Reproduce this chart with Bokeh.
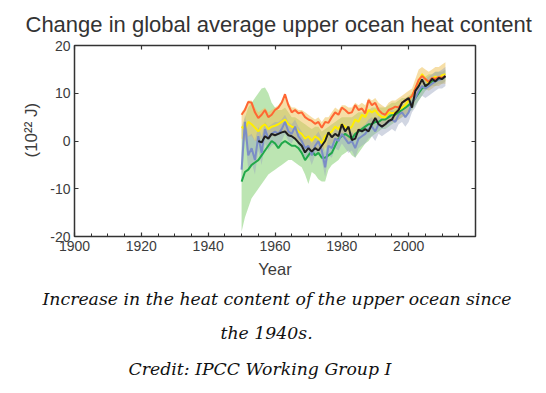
from bokeh.plotting import figure
from bokeh.models import Range1d, LinearAxis, FixedTicker, Title, CustomJSTickFormatter
from bokeh.embed import file_html
from bokeh.resources import INLINE

# ---------------- data ----------------
years = list(range(1950, 2012))
black_years = list(range(1955, 2012))

orange = [5.5, 6.5, 8.2, 8.0, 6.0, 4.8, 5.5, 6.5, 5.0, 5.5,
          6.5, 7.0, 8.0, 9.8, 7.5, 6.0, 6.5, 5.8, 6.0, 5.0,
          4.5, 4.2, 3.6, 4.0, 2.8, 4.0, 3.8, 5.0, 6.0, 5.5,
          7.0, 6.5, 5.8, 6.0, 7.5, 6.5, 6.8, 5.8, 8.6, 7.5,
          8.0, 6.5, 5.8, 5.5, 6.5, 6.8, 7.2, 7.0, 8.0, 8.5,
          8.8, 9.4, 11.0, 12.8, 13.6, 13.0, 12.4, 13.2, 13.0, 13.4,
          13.2, 13.6]
yellow = [3.0, 2.5, 4.0, 3.5, 2.8, 2.0, 3.0, 3.5, 2.5, 3.0,
          3.2, 3.5, 4.0, 4.5, 3.5, 3.0, 2.8, 2.0, 1.5, 0.5,
          1.0, 0.0, 1.0, 0.5, -0.5, 1.0, 1.5, 2.0, 3.0, 2.5,
          3.5, 3.0, 2.5, 3.0, 4.5, 4.0, 5.5, 5.0, 6.5, 6.0,
          6.5, 5.5, 5.0, 5.0, 6.0, 5.8, 6.0, 6.5, 7.0, 7.5,
          8.5, 9.5, 11.0, 12.5, 14.0, 13.0, 12.0, 13.0, 13.5, 13.0,
          13.8, 14.0]
blue = [-6.0, 4.0, -3.0, -1.5, -4.0, 1.0, -2.5, 2.5, 0.5, 1.5,
        2.0, 1.5, 2.5, 4.0, 2.0, 1.5, 3.0, 1.0, 0.0, -1.5,
        -1.0, -3.0, -1.0, 0.0, -2.0, -5.5, -1.0, -1.5, 0.5, 0.0,
        1.5, 0.5, -0.5, 0.0, -1.5, 0.5, 1.0, 1.5, 2.5, 3.0,
        2.0, 3.5, 3.0, 3.5, 4.0, 4.5, 4.0, 5.5, 6.0, 5.0,
        6.0, 8.0, 9.0, 10.5, 11.5, 11.0, 11.5, 12.0, 12.5, 12.8,
        13.0, 13.5]
green = [-8.5, -6.5, -6.0, -5.0, -4.5, -4.0, -3.0, -2.0, -1.0, 0.0,
         -0.5, -1.5, -0.5, 0.0, -0.5, -1.0, -1.0, -1.5, -2.5, -4.0,
         -3.0, -2.0, -3.0, -2.5, -3.5, -3.5, -3.0, -2.5, -1.0, 0.5,
         1.0, 1.5, 1.0, 0.5, 1.5, 2.0, 2.5, 3.0, 3.5, 3.5,
         4.0, 4.0, 4.5, 4.5, 5.0, 5.5, 5.5, 6.0, 6.5, 7.0,
         7.5, 8.0, 9.0, 10.0, 11.0, 11.5, 12.0, 12.5, 12.5, 13.0,
         13.0, 13.5]
black = [0.0, -0.3, 1.0, 0.5, 1.5,
         1.2, 1.5, 1.8, 2.0, 1.2, 1.0, 0.5, -0.3, -1.0, -2.4,
         -1.5, -2.2, -1.5, -2.0, -1.0, 0.0, 1.8, 0.8, 1.5, 1.0,
         3.5, 2.0, 3.0, 0.2, 0.5, 2.4, 2.0, 2.5, 2.0, 3.5,
         4.8, 3.5, 3.0, 3.5, 4.2, 4.5, 5.8, 6.5, 8.0, 8.5,
         9.0, 7.0, 10.5, 11.5, 12.9, 11.5, 12.0, 13.0, 12.5, 13.2,
         13.0, 13.6]

green_lo = [-19, -16, -14, -12, -11, -10, -9, -8, -7, -6.5,
            -6, -5.5, -5, -4.5, -4, -4, -4.5, -5, -5.5, -7,
            -9, -6.5, -7, -8, -8.5, -8.5, -6, -5, -4.5, -4,
            -3, -2.5, -2, -3, -3.5, -2.5, -1.5, -0.5, 0, 1,
            1.5, 2, 2.5, 2.5, 3, 3.5, 4, 4.5, 5, 5.5,
            6, 6.5, 7.5, 8.5, 9.5, 10.5, 11, 11.5, 11.5, 12,
            12, 12.5]
green_hi = [3, 5, 7, 8, 9, 10, 11, 11.2, 10, 8,
            7, 6.5, 6.5, 7, 6, 5, 5, 4.5, 4, 3.5,
            3, 2.5, 3, 3, 2, 2.5, 3, 3.5, 4, 4.5,
            5, 5, 5, 5, 5.5, 6, 6, 6, 6.5, 7,
            7, 7, 7, 7, 7.5, 8, 8, 8.5, 9, 9,
            9.5, 10, 11, 12, 13, 13.5, 14, 14, 14.5, 14.5,
            14.5, 15]
tan_lo = [0.5, 0, 1, 1, 0, 0, 0.5, 1, 0.5, 1,
          1, 1.5, 2, 2, 1.5, 1, 0.5, 0, -0.5, -1.5,
          -1, -2, -1.5, -2, -2.5, -1.5, -1, -0.5, 0.5, 0,
          1, 0.5, 0, 0.5, 1.5, 1.5, 2.5, 2.5, 3.5, 3.5,
          4, 3.5, 3, 3, 4, 4, 4, 4.5, 5, 5.5,
          6, 7, 8.5, 10, 11.5, 11, 10.5, 11, 11.5, 11.5,
          12, 12]
tan_hi = [6, 7, 8.5, 8.5, 7, 6, 6.5, 7, 6, 6.5,
          7, 7.5, 8.5, 9.5, 8, 7, 7, 6.5, 6.5, 6,
          5.5, 5, 4.5, 5, 4, 5, 5, 6, 7, 6.5,
          7.5, 7.5, 7, 7, 8, 7.5, 8, 7.5, 9, 8.5,
          9, 8, 7.5, 7, 8, 8.5, 8.5, 9, 9.5, 10,
          10.5, 11, 13, 15, 15.5, 15, 14.5, 15, 15.5, 15.5,
          16, 16.5]
blue_lo = [-9, 1, -6, -4.5, -7, -2, -5, -0.5, -2, -1,
           -0.5, -1, 0, 1.5, 0, -0.5, 1, -1, -2, -3.5,
           -3, -5, -3, -2, -4, -7.5, -3, -3.5, -1.5, -2,
           -0.5, -1.5, -2.5, -2, -3.5, -1.5, -1, -0.5, 0.5, 1,
           0, 1.5, 1, 1.5, 2, 2.5, 2, 3.5, 4, 3,
           4, 6, 7, 8.5, 9.5, 9, 9.5, 10, 10.5, 11,
           11, 11.5]
blue_hi = [-2, 5.5, 1, 1.5, 0, 3, 1, 4, 3, 3.5,
           4, 4, 4.5, 5.5, 4, 3.5, 4.5, 3, 2, 1,
           1, -0.5, 1, 2, 0.5, -2.5, 1, 1, 2.5, 2,
           3.5, 2.5, 1.5, 2, 1, 2.5, 3, 3.5, 4.5, 5,
           4, 5.5, 5, 5.5, 6, 6.5, 6, 7.5, 8, 7,
           8, 10, 11, 12.5, 13.5, 13, 13.5, 14, 14.5, 14.5,
           15, 15.5]

x_major = [1900, 1920, 1940, 1960, 1980, 2000]
x_minor = [1905, 1910, 1915, 1925, 1930, 1935, 1945, 1950, 1955, 1965,
           1970, 1975, 1985, 1990, 1995, 2005, 2010, 2015]
y_major = [-20, -10, 0, 10, 20]
y_labels = {-20: "-20", -10: "-10", 0: "0", 10: "10", 20: "20"}

title_text = "Change in global average upper ocean heat content"
y_title = "(10²² J)"
caption_lines = ["Increase in the heat content of the upper ocean since",
                 "the 1940s.",
                 "Credit: IPCC Working Group I"]

# ---------------- figure ----------------
AX_FONT = "Liberation Sans"
TXT = "#3c3c3c"

p = figure(frame_width=401, frame_height=191,
           x_range=Range1d(1900, 2020), y_range=Range1d(-20, 20),
           output_backend="svg", toolbar_location=None, title=None,
           min_border_left=74, min_border_right=60, min_border_top=45,
           min_border_bottom=0,
           background_fill_color="white", border_fill_color="white")
p.grid.visible = False
p.outline_line_color = "#333333"
p.outline_line_width = 1.5

# bands
p.varea(x=years, y1=green_lo, y2=green_hi, fill_color="#a6dc98", fill_alpha=0.75)
p.varea(x=years, y1=tan_lo, y2=tan_hi, fill_color="#eec25c", fill_alpha=0.55)
p.varea(x=years, y1=blue_lo, y2=blue_hi, fill_color="#9aa3bf", fill_alpha=0.45)

# lines
p.line(years, green, line_color="#21a84a", line_width=2)
p.line(years, yellow, line_color="#ffee00", line_width=2)
p.line(years, blue, line_color="#7b8dc6", line_width=2)
p.line(years, orange, line_color="#ff6633", line_width=2)
p.line(black_years, black, line_color="#1e1e1e", line_width=2)

def style_axis(ax):
    ax.axis_line_color = None
    ax.major_tick_in = 4
    ax.major_tick_out = 0
    ax.minor_tick_in = 3
    ax.minor_tick_out = 0
    ax.major_tick_line_color = "#333333"
    ax.minor_tick_line_color = "#333333"
    ax.major_tick_line_width = 1.2
    ax.minor_tick_line_width = 1.0
    ax.major_label_text_font = AX_FONT
    ax.major_label_text_font_size = "14px"
    ax.major_label_text_color = TXT
    ax.axis_label_text_font = AX_FONT
    ax.axis_label_text_font_style = "normal"
    ax.axis_label_text_color = TXT

xa = p.xaxis[0]
xa.ticker = FixedTicker(ticks=x_major, minor_ticks=x_minor)
style_axis(xa)
xa.major_label_standoff = 4
xa.axis_label = "Year"
xa.axis_label_text_font_size = "16.5px"
xa.axis_label_standoff = 6

ya = p.yaxis[0]
ya.ticker = FixedTicker(ticks=y_major)
style_axis(ya)
ya.major_label_overrides = y_labels
ya.major_label_standoff = 4

blank = CustomJSTickFormatter(code="return ''")
top = LinearAxis(ticker=FixedTicker(ticks=x_major), formatter=blank)
style_axis(top)
top.major_label_standoff = 0
top.major_label_text_font_size = "1px"
p.add_layout(top, "above")
right = LinearAxis(ticker=FixedTicker(ticks=y_major), formatter=blank)
style_axis(right)
right.major_label_standoff = 0
right.major_label_text_font_size = "1px"
p.add_layout(right, "right")

# y-axis title (rotated), placed a little above the axis centre as in the reference
p.add_layout(Title(text=y_title, align="left", offset=79, text_font=AX_FONT,
                   text_font_size="17px", text_font_style="normal",
                   text_color=TXT, standoff=14), "left")

p.add_layout(Title(text=title_text, align="left", offset=-49, text_font=AX_FONT,
                   text_font_size="22px", text_font_style="normal",
                   text_color="#333333", standoff=18), "above")

cap_offsets = [-32, 146, 54]
cap_standoffs = [12, 13, 14]
for line, off, so in zip(caption_lines, cap_offsets, cap_standoffs):
    p.add_layout(Title(text=line, align="left", offset=off, text_font="DejaVu Serif",
                       text_font_size="17.3px", text_font_style="italic",
                       text_color="#111111", standoff=so), "below")

open("out.html", "w").write(file_html(p, INLINE))
